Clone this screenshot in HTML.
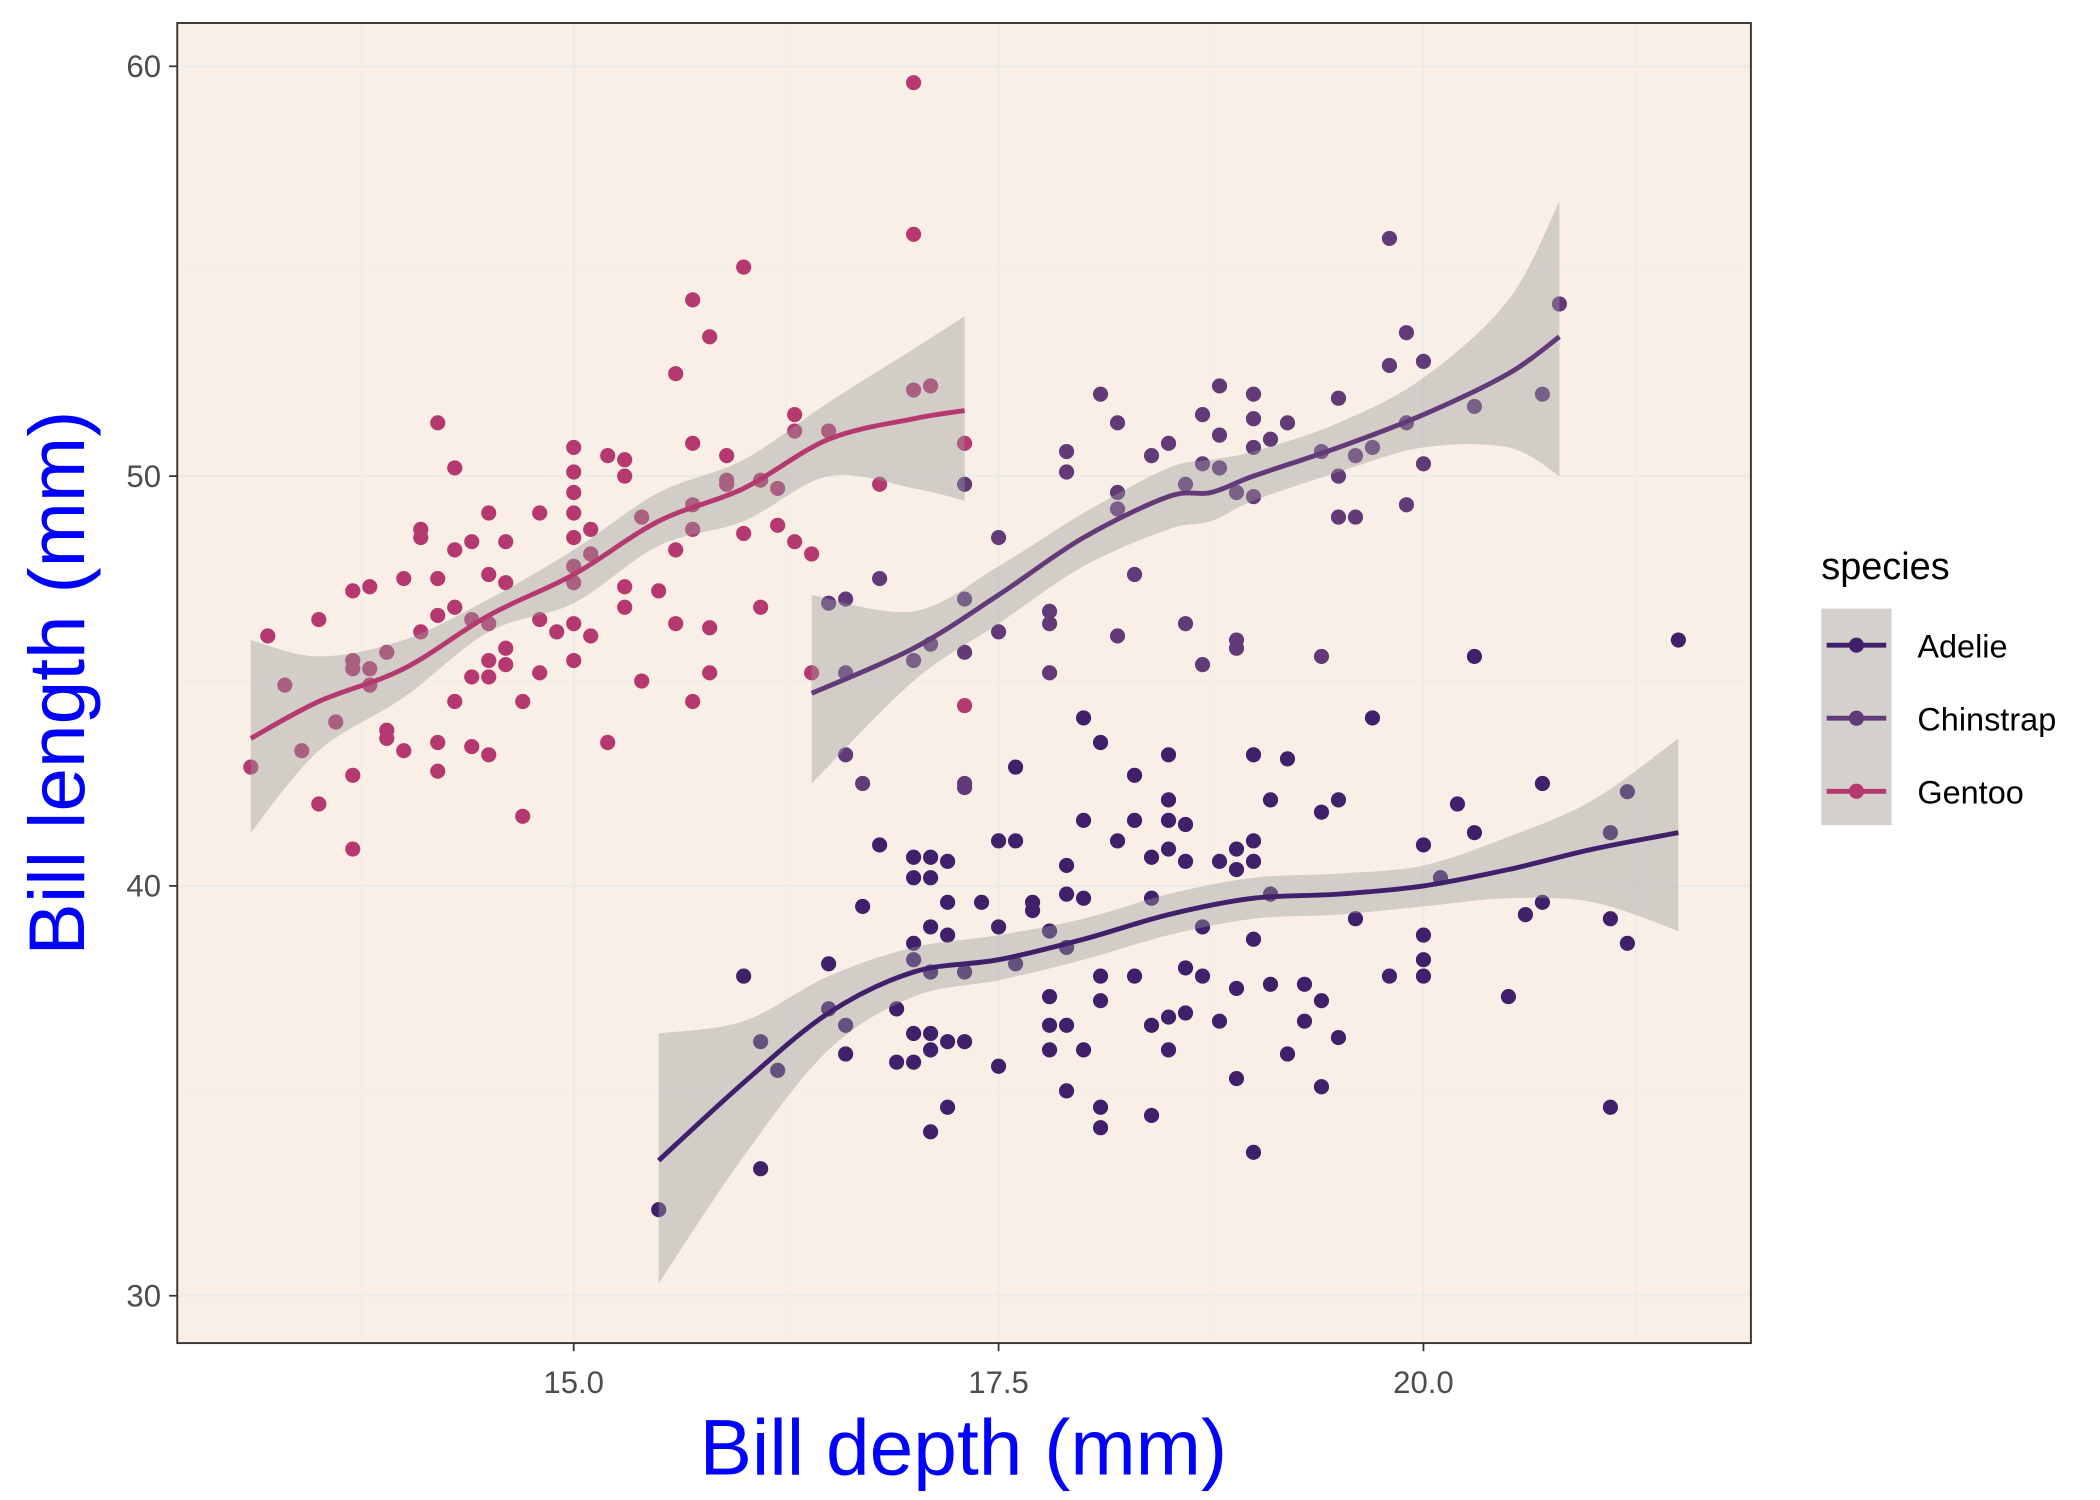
<!DOCTYPE html>
<html><head><meta charset="utf-8"><style>
html,body{margin:0;padding:0;background:#fff;}
svg{display:block;font-family:"Liberation Sans",sans-serif;}
</style></head><body>
<svg id="chart" width="2100" height="1500" viewBox="0 0 1552 1109" preserveAspectRatio="none" xmlns="http://www.w3.org/2000/svg">
<rect x="131" y="17" width="1163" height="976" fill="#f9efe6"/>
<g id="grid"></g>
<g id="pts"></g>
<g id="ribbons"></g>
<g id="lines"></g>
<rect x="131" y="17" width="1163" height="976" fill="none" stroke="#333" stroke-width="1.4"/>
<g id="axes"></g>
<text x="712" y="1090" text-anchor="middle" font-size="58" fill="#0000ff">Bill depth (mm)</text>
<text transform="translate(62,505) rotate(-90)" text-anchor="middle" font-size="58" fill="#0000ff">Bill length (mm)</text>
<g>
<text x="1346" y="428" font-size="28" fill="#000">species</text>
<rect x="1346" y="450" width="52" height="160" fill="#d4d0cb"/>
<g id="legend-keys"></g>
</g>
</svg>
<script>
const xTicks=[15,17.5,20];
const xTickLabels=["15.0","17.5","20.0"];
const xMinor=[13.75,16.25,18.75,21.25];
const yTicks=[30,40,50,60];
const yTickLabels=["30","40","50","60"];
const yMinor=[35,45,55];
const species=["Adelie","Chinstrap","Gentoo"];
const colors=["#40206a","#633a78","#b5396f"];

const gentooX=[13.1,13.2,13.3,13.4,13.5,13.5,13.6,13.7,13.7,13.7,13.7,13.7,13.8,13.8,13.8,13.9,13.9,13.9,14.0,14.0,14.1,14.1,14.1,14.2,14.2,14.2,14.2,14.2,14.3,14.3,14.3,14.3,14.4,14.4,14.4,14.4,14.5,14.5,14.5,14.5,14.5,14.5,14.6,14.6,14.6,14.6,14.7,14.7,14.8,14.8,14.8,14.9,15.0,15.0,15.0,15.0,15.0,15.0,15.0,15.0,15.0,15.1,15.1,15.1,15.2,15.2,15.3,15.3,15.3,15.3,15.4,15.5,15.6,15.6,15.6,15.7,15.7,15.7,15.7,15.8,15.8,15.8,15.9,15.9,16.0,16.0,16.1,16.1,16.2,16.2,16.3,16.3,16.5,17.0,17.0,17.0,17.1,17.3,17.3,16.8,16.4,16.4,16.3,15.7,15.9,15.4];
const gentooY=[42.9,46.1,44.9,43.3,46.5,42.0,44.0,47.2,45.5,45.3,42.7,40.9,47.3,45.3,44.9,45.7,43.8,43.6,47.5,43.3,48.7,48.5,46.2,51.3,47.5,46.6,43.5,42.8,50.2,48.2,46.8,44.5,48.4,46.5,45.1,43.4,49.1,47.6,46.4,45.5,45.1,43.2,47.4,48.4,45.8,45.4,44.5,41.7,49.1,46.5,45.2,46.2,50.7,50.1,49.6,49.1,48.5,47.8,47.4,46.4,45.5,48.7,48.1,46.1,50.5,43.5,50.4,50.0,47.3,46.8,45.0,47.2,52.5,46.4,48.2,54.3,50.8,44.5,48.7,53.4,46.3,45.2,50.5,49.9,55.1,48.6,49.9,46.8,49.7,48.8,51.5,48.4,51.1,59.6,55.9,52.1,52.2,50.8,44.4,49.8,45.2,48.1,51.1,49.3,49.8,49.0];

const chinX=[17.3,17.3,17.1,17.0,16.8,16.5,16.6,16.6,17.5,17.5,17.8,17.8,17.8,17.9,17.9,18.1,18.2,18.2,18.2,18.3,18.2,18.4,18.5,18.6,18.6,18.7,18.7,18.7,18.8,18.8,18.8,18.9,18.9,18.9,19.0,19.0,19.0,19.0,19.1,19.2,19.4,19.4,19.5,19.5,19.5,19.6,19.6,19.7,19.8,19.8,19.9,19.9,20.0,20.0,20.3,20.7,20.8,19.9,16.6,16.7,17.3,17.3,17.3];
const chinY=[49.8,47.0,45.9,45.5,47.5,46.9,47.0,45.2,48.5,46.2,45.2,46.7,46.4,50.6,50.1,52.0,51.3,49.6,49.2,47.6,46.1,50.5,50.8,49.8,46.4,51.5,50.3,45.4,52.2,51.0,50.2,49.6,46.0,45.8,52.0,51.4,50.7,49.5,50.9,51.3,50.6,45.6,51.9,50.0,49.0,49.0,50.5,50.7,55.8,52.7,53.5,49.3,52.8,50.3,51.7,52.0,54.2,51.3,43.2,42.5,42.5,42.4,45.7];

const adelieX=[15.5,16.0,16.1,16.1,16.2,16.5,16.5,16.6,16.6,16.7,16.8,16.9,16.9,17.0,17.0,17.0,17.0,17.0,17.0,17.1,17.1,17.1,17.1,17.1,17.1,17.1,17.2,17.2,17.2,17.2,17.2,17.3,17.3,17.4,17.5,17.5,17.5,17.6,17.6,17.6,17.7,17.7,17.8,17.8,17.8,17.8,17.9,17.9,17.9,17.9,17.9,18.0,18.0,18.0,18.0,18.1,18.1,18.1,18.1,18.1,18.2,18.3,18.3,18.3,18.4,18.4,18.4,18.4,18.5,18.5,18.5,18.5,18.5,18.5,18.6,18.6,18.6,18.6,18.7,18.7,18.8,18.8,18.9,18.9,18.9,18.9,19.0,19.0,19.0,19.0,19.0,19.1,19.1,19.1,19.2,19.2,19.3,19.3,19.4,19.4,19.4,19.5,19.5,19.6,19.7,19.8,20.0,20.0,20.0,20.0,20.1,20.2,20.3,20.3,20.5,20.6,20.7,20.7,21.1,21.1,21.1,21.2,21.2,21.5];
const adelieY=[32.1,37.8,36.2,33.1,35.5,38.1,37.0,35.9,36.6,39.5,41.0,35.7,37.0,40.7,40.2,38.6,38.2,36.4,35.7,40.7,40.2,39.0,37.9,36.4,36.0,34.0,40.6,39.6,38.8,36.2,34.6,36.2,37.9,39.6,41.1,39.0,35.6,41.1,42.9,38.1,39.6,39.4,38.9,37.3,36.6,36.0,40.5,39.8,38.5,36.6,35.0,39.7,41.6,36.0,44.1,43.5,37.8,37.2,34.6,34.1,41.1,37.8,42.7,41.6,34.4,36.6,39.7,40.7,41.6,36.8,36.0,40.9,42.1,43.2,41.5,40.6,38.0,36.9,37.8,39.0,40.6,36.7,40.9,40.4,35.3,37.5,43.2,40.6,41.1,33.5,38.7,42.1,37.6,39.8,43.1,35.9,37.6,36.7,41.8,37.2,35.1,42.1,36.3,39.2,44.1,37.8,41.0,38.8,38.2,37.8,40.2,42.0,41.3,45.6,37.3,39.3,39.6,42.5,34.6,39.2,41.3,42.3,38.6,46.0];

const fitAdelieX=[15.5,16.0,16.5,17.0,17.5,18.0,18.5,19.0,19.5,20.0,20.5,21.0,21.5];
const fitAdelieY=[33.3,35.2,36.9,37.9,38.2,38.7,39.3,39.7,39.8,40.0,40.4,40.9,41.3];
const fitAdelieHi=[36.4,36.7,37.8,38.5,38.8,39.2,39.8,40.2,40.3,40.5,41.2,42.1,43.6];
const fitAdelieLo=[30.3,33.4,36.0,37.3,37.7,38.2,38.8,39.2,39.3,39.5,39.7,39.6,38.9];
const fitChinX=[16.4,17.0,17.5,18.0,18.5,18.75,19.0,19.5,20.0,20.5,20.8];
const fitChinY=[44.7,45.8,47.1,48.5,49.5,49.6,50.0,50.7,51.5,52.5,53.4];
const fitChinHi=[47.1,46.7,47.8,49.1,50.2,50.4,50.6,51.3,52.4,54.3,56.7];
const fitChinLo=[42.5,45.0,46.4,47.8,48.7,48.9,49.4,50.1,50.7,50.7,50.0];
const fitGentooX=[13.1,13.5,14.0,14.5,15.0,15.5,16.0,16.5,17.0,17.3];
const fitGentooY=[43.6,44.5,45.3,46.6,47.6,48.9,49.7,50.9,51.4,51.6];
const fitGentooHi=[46.0,45.6,46.0,47.0,48.2,49.6,50.4,51.8,53.1,53.9];
const fitGentooLo=[41.3,43.3,44.6,46.2,46.9,48.3,48.9,50.0,49.7,49.4];

const NS="http://www.w3.org/2000/svg";
const sx=v=>424+(v-15)*125.6;
const sy=v=>352-(v-50)*30.3;
function mk(tag,attrs,parent){const e=document.createElementNS(NS,tag);for(const k in attrs)e.setAttribute(k,attrs[k]);parent.appendChild(e);return e;}
function smooth(p){ // p: array of [x,y] pixels, catmull-rom to bezier, no M
  let d='';
  for(let i=0;i<p.length-1;i++){
    const p0=p[Math.max(0,i-1)],p1=p[i],p2=p[i+1],p3=p[Math.min(p.length-1,i+2)];
    const c1=[p1[0]+(p2[0]-p0[0])/6,p1[1]+(p2[1]-p0[1])/6];
    const c2=[p2[0]-(p3[0]-p1[0])/6,p2[1]-(p3[1]-p1[1])/6];
    d+=' C'+c1[0]+','+c1[1]+' '+c2[0]+','+c2[1]+' '+p2[0]+','+p2[1];
  }
  return d;
}

const grid=document.getElementById('grid');
xMinor.forEach(v=>{const l=mk('line',{x1:sx(v),x2:sx(v),y1:17,y2:993,stroke:'#ebebeb','stroke-width':0.7},grid);

});
yMinor.forEach(v=>{const l=mk('line',{x1:131,x2:1294,y1:sy(v),y2:sy(v),stroke:'#ebebeb','stroke-width':0.7},grid);

});
xTicks.forEach(v=>{const l=mk('line',{x1:sx(v),x2:sx(v),y1:17,y2:993,stroke:'#ebebeb','stroke-width':1.6},grid);

});
yTicks.forEach(v=>{const l=mk('line',{x1:131,x2:1294,y1:sy(v),y2:sy(v),stroke:'#ebebeb','stroke-width':1.6},grid);

});

const axes=document.getElementById('axes');
xTicks.forEach((v,i)=>{const t=mk('line',{x1:sx(v),x2:sx(v),y1:993,y2:999,stroke:'#333','stroke-width':1.3},axes);


const tx=mk('text',{x:sx(v),y:1030,'text-anchor':'middle','font-size':23,fill:'#4d4d4d'},axes);tx.textContent=xTickLabels[i];

});
yTicks.forEach((v,i)=>{const t=mk('line',{x1:125,x2:131,y1:sy(v),y2:sy(v),stroke:'#333','stroke-width':1.3},axes);


const tx=mk('text',{x:119,y:sy(v)+8,'text-anchor':'end','font-size':23,fill:'#4d4d4d'},axes);tx.textContent=yTickLabels[i];

});

const pts=document.getElementById('pts');
[[adelieX,adelieY,0],[chinX,chinY,1],[gentooX,gentooY,2]].forEach(([xs,ys,k])=>{
xs.forEach((x,i)=>{const c=mk('circle',{cx:sx(x),cy:sy(ys[i]),r:5.6,fill:colors[k]},pts);

});});

const rib=document.getElementById('ribbons'),lines=document.getElementById('lines');
[[fitAdelieX,fitAdelieY,fitAdelieHi,fitAdelieLo,0],[fitChinX,fitChinY,fitChinHi,fitChinLo,1],[fitGentooX,fitGentooY,fitGentooHi,fitGentooLo,2]].forEach(([xs,ys,hi,lo,k])=>{
const up=xs.map((x,i)=>[sx(x),sy(hi[i])]);
const dn=xs.map((x,i)=>[sx(x),sy(lo[i])]).reverse();
const d='M'+up[0][0]+','+up[0][1]+smooth(up)+' L'+dn[0][0]+','+dn[0][1]+smooth(dn)+' Z';
const p=mk('path',{d:d,fill:'#9a9a9a','fill-opacity':0.4},rib);


const mid=xs.map((x,i)=>[sx(x),sy(ys[i])]);
const l=mk('path',{d:'M'+mid[0][0]+','+mid[0][1]+smooth(mid),fill:'none',stroke:colors[k],'stroke-width':3.6,'stroke-linejoin':'round'},lines);

});

const lk=document.getElementById('legend-keys');
species.forEach((s,i)=>{const y=477+i*54;
const g=mk('g',{},lk);


mk('line',{x1:1350,x2:1394,y1:y,y2:y,stroke:colors[i],'stroke-width':3.6},g);
mk('circle',{cx:1372,cy:y,r:5.6,fill:colors[i]},g);
const t=mk('text',{x:1417,y:y+9,'font-size':24,fill:'#000'},g);t.textContent=s;});
</script>
</body></html>
